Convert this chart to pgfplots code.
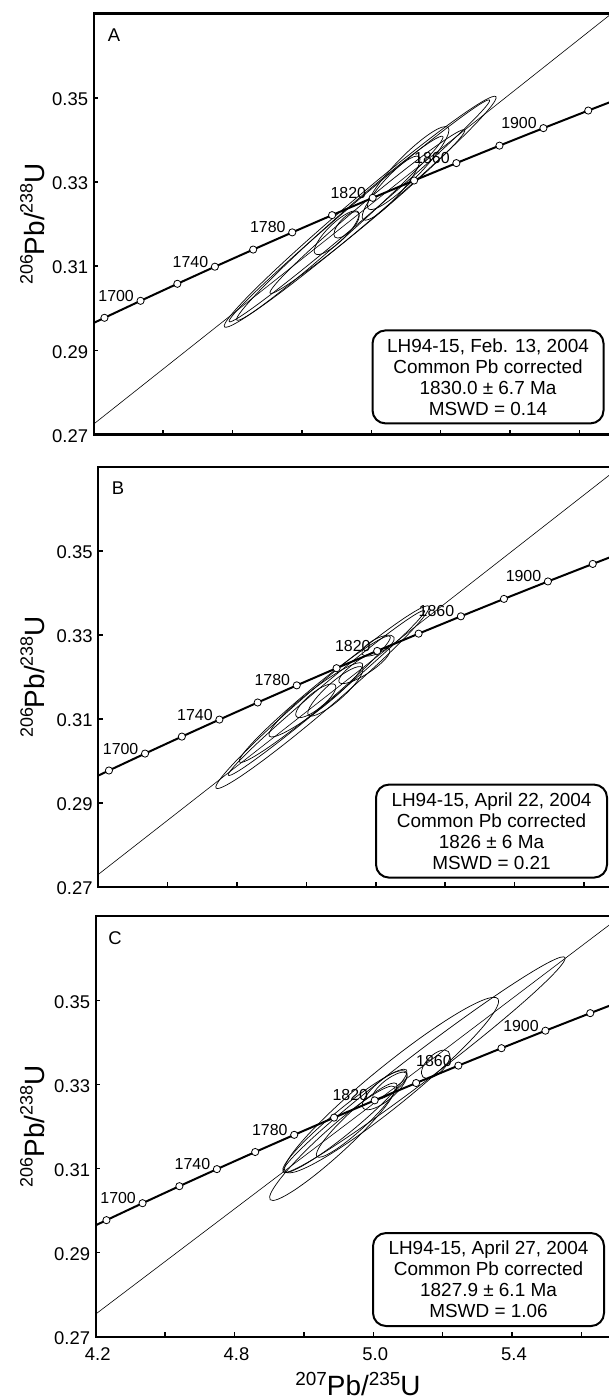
\documentclass[border=0pt]{standalone}
\usepackage{fontspec}
\setmainfont{Liberation Sans}
\usepackage{pgfplots}
\pgfplotsset{compat=1.18}
\usepackage{pgfplotstable}

\pgfdeclareplotmark{ell}{%
  \pgfpathellipse{\pgfpointorigin}{\pgfpoint{\ellSA bp}{0pt}}{\pgfpoint{0pt}{\ellSB bp}}%
  \pgfusepathqstroke}

% concordia points (age, 207Pb/235U, 206Pb/238U)
\pgfplotstableread{
t x y
1660 4.128693 0.293702
1680 4.230712 0.297721
1700 4.334772 0.301754
1720 4.440886 0.305798
1740 4.549116 0.309856
1760 4.659504 0.313926
1780 4.772086 0.318009
1800 4.886900 0.322104
1820 5.003987 0.326212
1840 5.123437 0.330333
1860 5.245249 0.334466
1880 5.369480 0.338614
1900 5.496188 0.342774
1920 5.625408 0.346947
1940 5.757198 0.351132
}\conc
\pgfplotstableread{
t x y
1680 4.230712 0.297721
1700 4.334772 0.301754
1720 4.440886 0.305798
1740 4.549116 0.309856
1760 4.659504 0.313926
1780 4.772086 0.318009
1800 4.886900 0.322104
1820 5.003987 0.326212
1840 5.123437 0.330333
1860 5.245249 0.334466
1880 5.369480 0.338614
1900 5.496188 0.342774
1920 5.625408 0.346947
1940 5.757198 0.351132
}\concmarks
\pgfplotstableread{
x y lab
4.334772 0.301754 1700
4.549116 0.309856 1740
4.772086 0.318009 1780
5.003987 0.326212 1820
5.245249 0.334466 1860
5.496188 0.342774 1900
}\conclab

% error ellipses: centre (x,y), semi-axes a,b (bp), angle (deg)
\pgfplotstableread{
x y a b ang
4.9680 0.32291 178 13 40.3
4.9657 0.32313 171 9 40.4
4.9092 0.31899 138 10 41.7
4.9888 0.32296 127 9 40
4.9000 0.31794 30 9 44.3
4.9288 0.31980 17 7 46.5
5.0571 0.32852 42 10 48.3
5.1063 0.33328 57 12 45.6
}\tabA
\pgfplotstableread{
x y a b ang
4.8464 0.31519 140 12 40.5
4.8576 0.31619 128 8 40
4.8240 0.31471 98 10 39.8
4.8270 0.31456 59 10 38
4.8270 0.31434 25 8 39
5.0064 0.32747 18 7 28
4.8835 0.31659 36 9 41.5
4.9670 0.32263 30 8 33
}\tabB
\pgfplotstableread{
x y a b ang
5.1464 0.33470 177 14 37.3
5.0527 0.32983 137 20 39.1
4.8820 0.31600 84 13 42.2
4.9180 0.32132 80 12 39.5
4.9520 0.32151 54 10 42.5
5.0480 0.32964 21 7 37
5.1798 0.33479 18 9 45
5.0330 0.32862 28 10 40
}\tabC

\pgfplotsset{
  panel/.style={
    scale only axis, width=555bp, height=421bp,
    xmin=4.2, xmax=5.8, ymin=0.27, ymax=0.37,
    xtick={4.2,4.4,4.6,4.8,5.0,5.2,5.4,5.6,5.8},
    ytick={0.27,0.29,0.31,0.33,0.35},
    yticklabels={0.27,0.29,0.31,0.33,0.35},
    xtick pos=left, ytick pos=left,
    tick align=inside, major tick length=4.5bp,
    tick style={line width=1.6bp, black},
    axis line style={line width=2.3bp},
    yticklabel style={font=\fontsize{18.5}{20}\selectfont, anchor=east, inner sep=0pt, xshift=-5.5bp, yshift=-1.5bp},
    xticklabel style={font=\fontsize{18.5}{20}\selectfont, anchor=base, inner sep=0pt, yshift=-24bp, xshift=2bp},
    ylabel={\ylab},
  },
}
\tikzset{
  letter/.style={anchor=base west, font=\fontsize{18.5}{20}\selectfont, inner sep=0pt},
  infobox/.style={draw, line width=2bp, rounded corners=13bp, align=center,
    minimum width=231bp, minimum height=93bp, inner sep=0pt, fill=white,
    font=\fontsize{19}{21}\selectfont},
}
\newcommand{\ellplot}[1]{%
  \addplot[scatter, only marks, mark=ell, black, line width=0.7bp,
    visualization depends on={\thisrow{a} \as \ellSA},
    visualization depends on={\thisrow{b} \as \ellSB},
    visualization depends on={\thisrow{ang} \as \ellAng},
    scatter/@pre marker code/.code={\pgfscope\pgftransformrotate{\ellAng}},
    scatter/@post marker code/.code={\endpgfscope}]
    table[x=x,y=y] {#1};
}

\newcommand{\ylab}{\fontsize{28}{28}\selectfont\raisebox{12bp}{\fontsize{18}{18}\selectfont 206}Pb/\raisebox{12bp}{\fontsize{18}{18}\selectfont 238}U}
\newcommand{\xlab}{\fontsize{28}{28}\selectfont\raisebox{10bp}{\fontsize{19}{19}\selectfont 207}Pb/\raisebox{10bp}{\fontsize{19}{19}\selectfont 235}U}

\newcommand{\concordiaplots}{%
  \addplot[black, line width=2bp, mark=none] table[x=x,y=y] {\conc};
  \addplot[only marks, mark=*, mark size=3.6bp, mark options={fill=white, draw=black, line width=0.8bp}] table[x=x,y=y] {\concmarks};
  \addplot[draw=none, mark=none, nodes near coords, point meta=explicit symbolic,
    every node near coord/.append style={anchor=base east, xshift=-6.5bp, yshift=-0.5bp, inner sep=0pt, font=\fontsize{16}{16}\selectfont}]
    table[x=x,y=y,meta=lab] {\conclab};
}

\begin{document}
\begin{tikzpicture}
% ---------------- Panel A
\begin{axis}[panel, at={(93.8bp,-13.5bp)}, anchor=north west, xticklabels={},
  ylabel style={at={(axis description cs:-0.0885,0.5)}, anchor=base, rotate=0, inner sep=0pt}]
  \addplot[black, line width=0.6bp] coordinates {(4.2,0.2725) (5.8,0.3770)};
  \ellplot{\tabA}
  \concordiaplots
  \node[letter] at (axis description cs:0.0252,0.9335) {A};
  \node[infobox] at (axis description cs:0.7103,0.1368) {LH94-15, Feb. 13, 2004\\Common Pb corrected\\1830.0 ± 6.7 Ma\\MSWD = 0.14};
\end{axis}
% ---------------- Panel B
\begin{axis}[panel, at={(98.3bp,-467.2bp)}, anchor=north west, height=419.6bp, xticklabels={},
  ylabel style={at={(axis description cs:-0.0964,0.5)}, anchor=base, rotate=0, inner sep=0pt}]
  \addplot[black, line width=0.6bp] coordinates {(4.2,0.27295) (5.8,0.3763)};
  \ellplot{\tabB}
  \concordiaplots
  \node[letter] at (axis description cs:0.0242,0.9357) {B};
  \node[infobox] at (axis description cs:0.7085,0.1328) {LH94-15, April 22, 2004\\Common Pb corrected\\1826 ± 6 Ma\\MSWD = 0.21};
\end{axis}
% ---------------- Panel C
\begin{axis}[panel, at={(95.8bp,-916.2bp)}, anchor=north west, height=420.5bp,
  xticklabels={4.2,,4.8,,5.0,,5.4,,},
  ylabel style={at={(axis description cs:-0.092,0.5)}, anchor=base, rotate=0, inner sep=0pt},
  xlabel={\xlab},
  xlabel style={at={(axis description cs:0.4724,-0.1409)}, anchor=base, inner sep=0pt}]
  \addplot[black, line width=0.6bp] coordinates {(4.2,0.2754) (5.8,0.3754)};
  \ellplot{\tabC}
  \concordiaplots
  \node[letter] at (axis description cs:0.0225,0.9327) {C};
  \node[infobox] at (axis description cs:0.7076,0.136) {LH94-15, April 27, 2004\\Common Pb corrected\\1827.9 ± 6.1 Ma\\MSWD = 1.06};
\end{axis}
\pgfresetboundingbox
\path[use as bounding box] (0,0) rectangle (609bp,-1400bp);
\end{tikzpicture}
\end{document}
